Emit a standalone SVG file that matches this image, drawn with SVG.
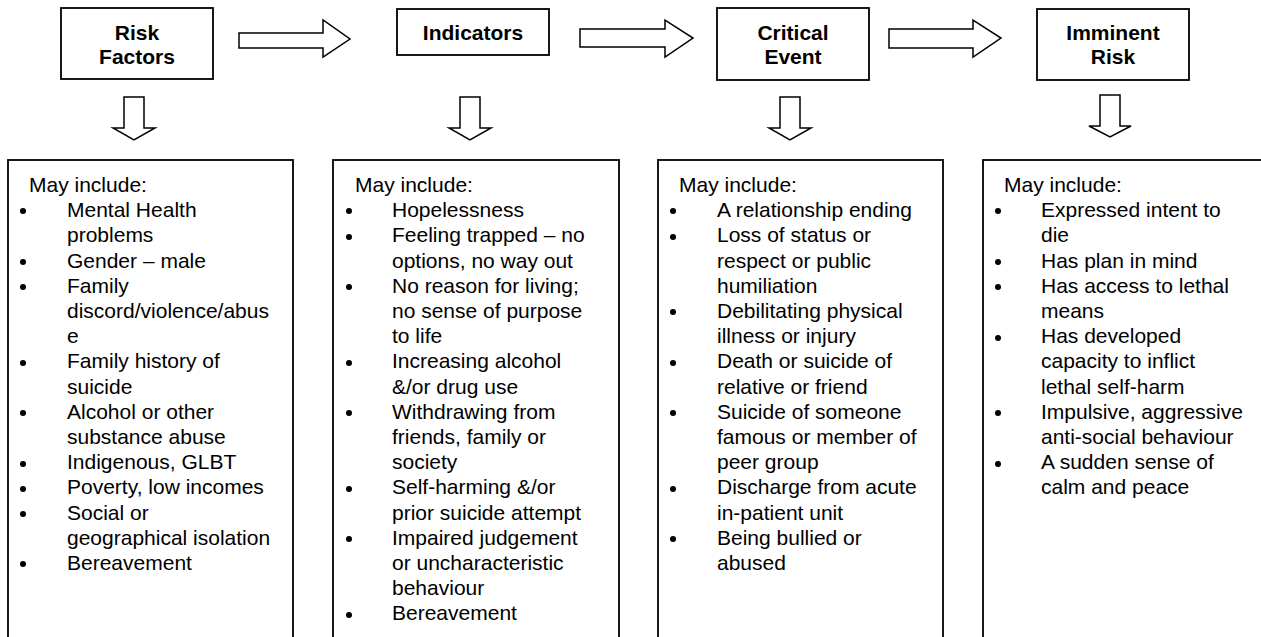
<svg xmlns="http://www.w3.org/2000/svg" width="1261" height="637" viewBox="0 0 1261 637">
<style>
.box{fill:#fff;stroke:#000;stroke-width:1.8}
.arr{fill:#fff;stroke:#000;stroke-width:1.5;stroke-linejoin:miter}
.t{font-family:"Liberation Sans",Arial,sans-serif;font-size:21px;font-weight:bold;text-anchor:middle;fill:#000}
.b{font-family:"Liberation Sans",Arial,sans-serif;font-size:21px;fill:#000}
.dot{fill:#000}
</style>
<rect width="1261" height="637" fill="#fff"/>
<g id="connectors">
<polygon class="arr" points="239,33 323,33 323,20 350,39 323,57 323,48 239,48"/>
<polygon class="arr" points="580,29 665,29 665,20 693,38 665,57 665,47 580,47"/>
<polygon class="arr" points="889,29 973,29 973,20 1001,38 973,57 973,48 889,48"/>
<polygon class="arr" points="124,97 144,97 144,128 155,128 134,140 113,128 124,128"/>
<polygon class="arr" points="460,97 480,97 480,128 491,128 470,140 449,128 460,128"/>
<polygon class="arr" points="780,97 800,97 800,128 811,128 790,140 769,128 780,128"/>
<polygon class="arr" points="1100,95 1120,95 1120,126 1131,126 1110,137 1089,126 1100,126"/>
</g>
<g id="risk-factors">
<rect class="box" x="61" y="8" width="152" height="71"/>
<text class="t" x="137" y="40">Risk</text>
<text class="t" x="137" y="64">Factors</text>
</g>
<g id="indicators">
<rect class="box" x="397" y="9" width="152" height="46"/>
<text class="t" x="473" y="40">Indicators</text>
</g>
<g id="critical-event">
<rect class="box" x="717" y="8" width="152" height="72"/>
<text class="t" x="793" y="40">Critical</text>
<text class="t" x="793" y="64">Event</text>
</g>
<g id="imminent-risk">
<rect class="box" x="1037" y="9" width="152" height="71"/>
<text class="t" x="1113" y="40">Imminent</text>
<text class="t" x="1113" y="64">Risk</text>
</g>
<g id="risk-factors-list">
<rect class="box" x="8" y="160" width="285" height="490"/>
<text class="b" x="29" y="192">May include:</text>
<g class="dot"><circle cx="23" cy="211" r="3"/><circle cx="23" cy="262" r="3"/><circle cx="23" cy="287" r="3"/><circle cx="23" cy="363" r="3"/><circle cx="23" cy="413" r="3"/><circle cx="23" cy="464" r="3"/><circle cx="23" cy="489" r="3"/><circle cx="23" cy="514" r="3"/><circle cx="23" cy="564" r="3"/></g>
<text class="b" x="67" y="217.2">Mental Health</text>
<text class="b" x="67" y="242.4">problems</text>
<text class="b" x="67" y="267.6">Gender – male</text>
<text class="b" x="67" y="292.8">Family</text>
<text class="b" x="67" y="318">discord/violence/abus</text>
<text class="b" x="67" y="343.2">e</text>
<text class="b" x="67" y="368.4">Family history of</text>
<text class="b" x="67" y="393.6">suicide</text>
<text class="b" x="67" y="418.8">Alcohol or other</text>
<text class="b" x="67" y="444">substance abuse</text>
<text class="b" x="67" y="469.2">Indigenous, GLBT</text>
<text class="b" x="67" y="494.4">Poverty, low incomes</text>
<text class="b" x="67" y="519.6">Social or</text>
<text class="b" x="67" y="544.8">geographical isolation</text>
<text class="b" x="67" y="570">Bereavement</text>
</g>
<g id="indicators-list">
<rect class="box" x="333" y="160" width="286" height="490"/>
<text class="b" x="355" y="192">May include:</text>
<g class="dot"><circle cx="349" cy="211" r="3"/><circle cx="349" cy="237" r="3"/><circle cx="349" cy="287" r="3"/><circle cx="349" cy="363" r="3"/><circle cx="349" cy="413" r="3"/><circle cx="349" cy="489" r="3"/><circle cx="349" cy="539" r="3"/><circle cx="349" cy="615" r="3"/></g>
<text class="b" x="392" y="217.2">Hopelessness</text>
<text class="b" x="392" y="242.4">Feeling trapped – no</text>
<text class="b" x="392" y="267.6">options, no way out</text>
<text class="b" x="392" y="292.8">No reason for living;</text>
<text class="b" x="392" y="318">no sense of purpose</text>
<text class="b" x="392" y="343.2">to life</text>
<text class="b" x="392" y="368.4">Increasing alcohol</text>
<text class="b" x="392" y="393.6">&amp;/or drug use</text>
<text class="b" x="392" y="418.8">Withdrawing from</text>
<text class="b" x="392" y="444">friends, family or</text>
<text class="b" x="392" y="469.2">society</text>
<text class="b" x="392" y="494.4">Self-harming &amp;/or</text>
<text class="b" x="392" y="519.6">prior suicide attempt</text>
<text class="b" x="392" y="544.8">Impaired judgement</text>
<text class="b" x="392" y="570">or uncharacteristic</text>
<text class="b" x="392" y="595.2">behaviour</text>
<text class="b" x="392" y="620.4">Bereavement</text>
</g>
<g id="critical-event-list">
<rect class="box" x="658" y="160" width="285" height="490"/>
<text class="b" x="679" y="192">May include:</text>
<g class="dot"><circle cx="673" cy="211" r="3"/><circle cx="673" cy="237" r="3"/><circle cx="673" cy="312" r="3"/><circle cx="673" cy="363" r="3"/><circle cx="673" cy="413" r="3"/><circle cx="673" cy="489" r="3"/><circle cx="673" cy="539" r="3"/></g>
<text class="b" x="717" y="217.2">A relationship ending</text>
<text class="b" x="717" y="242.4">Loss of status or</text>
<text class="b" x="717" y="267.6">respect or public</text>
<text class="b" x="717" y="292.8">humiliation</text>
<text class="b" x="717" y="318">Debilitating physical</text>
<text class="b" x="717" y="343.2">illness or injury</text>
<text class="b" x="717" y="368.4">Death or suicide of</text>
<text class="b" x="717" y="393.6">relative or friend</text>
<text class="b" x="717" y="418.8">Suicide of someone</text>
<text class="b" x="717" y="444">famous or member of</text>
<text class="b" x="717" y="469.2">peer group</text>
<text class="b" x="717" y="494.4">Discharge from acute</text>
<text class="b" x="717" y="519.6">in-patient unit</text>
<text class="b" x="717" y="544.8">Being bullied or</text>
<text class="b" x="717" y="570">abused</text>
</g>
<g id="imminent-risk-list">
<rect class="box" x="983" y="160" width="300" height="490"/>
<text class="b" x="1004" y="192">May include:</text>
<g class="dot"><circle cx="998" cy="211" r="3"/><circle cx="998" cy="262" r="3"/><circle cx="998" cy="287" r="3"/><circle cx="998" cy="338" r="3"/><circle cx="998" cy="413" r="3"/><circle cx="998" cy="464" r="3"/></g>
<text class="b" x="1041" y="217.2">Expressed intent to</text>
<text class="b" x="1041" y="242.4">die</text>
<text class="b" x="1041" y="267.6">Has plan in mind</text>
<text class="b" x="1041" y="292.8">Has access to lethal</text>
<text class="b" x="1041" y="318">means</text>
<text class="b" x="1041" y="343.2">Has developed</text>
<text class="b" x="1041" y="368.4">capacity to inflict</text>
<text class="b" x="1041" y="393.6">lethal self-harm</text>
<text class="b" x="1041" y="418.8">Impulsive, aggressive</text>
<text class="b" x="1041" y="444">anti-social behaviour</text>
<text class="b" x="1041" y="469.2">A sudden sense of</text>
<text class="b" x="1041" y="494.4">calm and peace</text>
</g>
</svg>
